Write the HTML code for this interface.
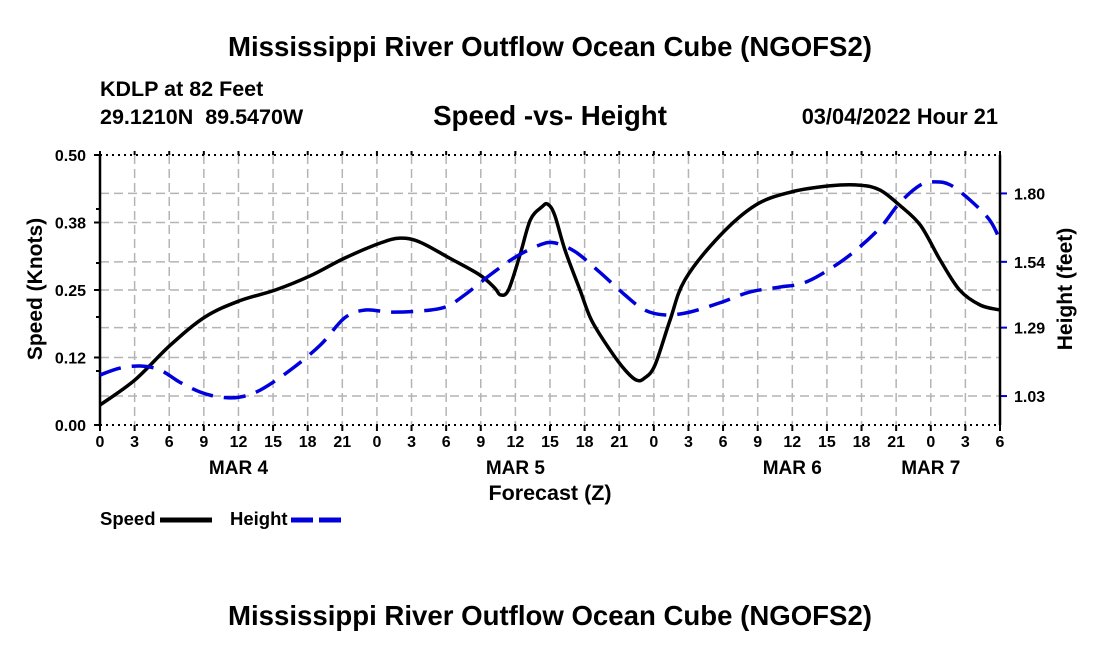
<!DOCTYPE html>
<html><head><meta charset="utf-8"><style>
body{margin:0;background:#fff;}
svg text{font-family:"Liberation Sans",Arial,sans-serif;font-weight:bold;fill:#000;}
</style></head><body>
<svg id="chart" width="1100" height="650" viewBox="0 0 1100 650">
<text x="550" y="56" font-size="27.6" text-anchor="middle">Mississippi River Outflow Ocean Cube (NGOFS2)</text>
<text x="100" y="96" font-size="21.5">KDLP at 82 Feet</text>
<text x="100" y="124" font-size="21.5">29.1210N&#160; 89.5470W</text>
<text x="550" y="125" font-size="27.7" text-anchor="middle">Speed -vs- Height</text>
<text x="998" y="124" font-size="21.8" text-anchor="end">03/04/2022 Hour 21</text>
<g id="grid"></g>
<g id="axes"></g>
<g id="series"></g>
<text transform="translate(42,289) rotate(-90)" font-size="21" text-anchor="middle">Speed (Knots)</text>
<text transform="translate(1072,289) rotate(-90)" font-size="21" text-anchor="middle">Height (feet)</text>
<text x="550" y="500" font-size="21.5" text-anchor="middle">Forecast (Z)</text>
<g>
<text x="100" y="525" font-size="18.5">Speed</text>
<line x1="160" y1="520" x2="212" y2="520" stroke="#000" stroke-width="5"/>
<text x="230" y="525" font-size="18.5">Height</text>
<line x1="291" y1="520" x2="343" y2="520" stroke="#0000dd" stroke-width="5" stroke-dasharray="22,6"/>
</g>
<text x="550" y="625" font-size="27.6" text-anchor="middle">Mississippi River Outflow Ocean Cube (NGOFS2)</text>
</svg>
<script>
const speedHours=[0,3,6.1,9.1,12.1,15.2,18.2,21.2,24.3,26,27.7,30.3,32.9,34.2,34.7,35.4,36.4,37.3,38.3,38.8,39.4,40.3,41.6,42.6,44.2,45.5,46.5,47.2,48.1,49.4,50.7,53.7,56.8,59.8,63.3,65.9,67.6,69.3,71.1,72.8,74.5,76.3,78];
const speedValues=[0.037,0.083,0.148,0.200,0.230,0.250,0.276,0.309,0.337,0.346,0.339,0.309,0.278,0.254,0.241,0.250,0.315,0.380,0.404,0.409,0.389,0.324,0.250,0.194,0.139,0.102,0.083,0.087,0.111,0.194,0.269,0.350,0.407,0.431,0.443,0.444,0.435,0.407,0.370,0.306,0.250,0.222,0.213];
const heightHours=[0,1.7,3.5,5.2,6.9,8.7,10.4,12.1,13.9,16.5,19.1,21.2,23,25.1,27.7,29.9,31.6,33.8,36,38.1,39.4,41.2,43.3,45.5,47.2,49,51.1,53.7,56.3,58.9,60.7,62.4,65,67.6,69.3,71.1,72.4,73.7,75.4,77.1,78];
const heightValues=[1.110,1.136,1.144,1.129,1.083,1.045,1.026,1.026,1.053,1.129,1.224,1.327,1.357,1.349,1.353,1.368,1.414,1.490,1.558,1.604,1.612,1.578,1.501,1.414,1.357,1.338,1.349,1.384,1.425,1.444,1.456,1.490,1.566,1.669,1.764,1.832,1.844,1.832,1.775,1.699,1.623];
const xTickLabels=["0","3","6","9","12","15","18","21","0","3","6","9","12","15","18","21","0","3","6","9","12","15","18","21","0","3","6"];
const dayLabels=["MAR 4","MAR 5","MAR 6","MAR 7"];
const dayHours=[12,36,60,72];
const leftTicks=[0,0.125,0.25,0.375,0.5];
const leftTickLabels=["0.00","0.12","0.25","0.38","0.50"];
const leftMinor=[0.1,0.2,0.3,0.4];
const rightTicks=[1.03,1.29,1.54,1.80];
const rightTickLabels=["1.03","1.29","1.54","1.80"];

const L=100,R=1000,T=155,B=425;
const xS=h=>L+h/78*(R-L);
const yL=v=>B-v/0.5*(B-T);
const yR=v=>B-(v-0.92)/(1.946-0.92)*(B-T);
const NS="http://www.w3.org/2000/svg";
function mk(tag,attrs,parent){const e=document.createElementNS(NS,tag);for(const k in attrs)e.setAttribute(k,attrs[k]);parent.appendChild(e);return e;}
const grid=document.getElementById('grid'),axes=document.getElementById('axes'),series=document.getElementById('series');
const gs={stroke:"#b4b4b4","stroke-width":1.5,"stroke-dasharray":"9,5"};
xTickLabels.forEach((t,i)=>{const x=xS(i*3);
 if(i>0&&i<26){const g=mk('line',Object.assign({x1:x,x2:x,y1:T,y2:B},gs),grid);
 
 }
 const tk=mk('line',{x1:x,x2:x,y1:B,y2:B+6,stroke:"#000","stroke-width":2},axes);
 
 
 const tt=mk('line',{x1:x,x2:x,y1:T-4,y2:T,stroke:"#000","stroke-width":2},axes);
 
 
 const tl=mk('text',{x:x,y:B+22,"font-size":16,"text-anchor":"middle"},axes);tl.textContent=t;
 
 
});
dayLabels.forEach((d,i)=>{const t=mk('text',{x:xS(dayHours[i]),y:474,"font-size":19,"text-anchor":"middle"},axes);t.textContent=d;
 
 });
leftTicks.forEach((v,i)=>{const y=yL(v);
 if(i>0&&i<4){const g=mk('line',Object.assign({x1:L,x2:R,y1:y,y2:y},gs),grid);
 
 }
 const tk=mk('line',{x1:L-6,x2:L,y1:y,y2:y,stroke:"#000","stroke-width":2},axes);
 
 
 const tl=mk('text',{x:L-14,y:y+6,"font-size":16,"text-anchor":"end"},axes);tl.textContent=leftTickLabels[i];
 
 });
leftMinor.forEach(v=>{const tk=mk('line',{x1:L-4,x2:L,y1:yL(v),y2:yL(v),stroke:"#000","stroke-width":2},axes);
 
 });
rightTicks.forEach((v,i)=>{const y=yR(v);
 const g=mk('line',Object.assign({x1:L,x2:R,y1:y,y2:y},gs),grid);
 
 
 const tk=mk('line',{x1:R,x2:R+7,y1:y,y2:y,stroke:"#0000dd","stroke-width":2},axes);
 
 
 const tl=mk('text',{x:R+14,y:y+6,"font-size":16},axes);tl.textContent=rightTickLabels[i];
 
 });
[[L,T,R,T,"2,4"],[L,B,R,B,"2,4"]].forEach(a=>{const l=mk('line',{x1:a[0],y1:a[1],x2:a[2],y2:a[3],stroke:"#000","stroke-width":2,"stroke-dasharray":a[4]},axes);
 
 });
[[L],[R]].forEach(a=>{const l=mk('line',{x1:a[0],y1:T,x2:a[0],y2:B,stroke:"#000","stroke-width":2.5},axes);
 
 });
function path(xs,ys){const p=xs.map((x,i)=>[x,ys[i]]);let d=`M${p[0][0]},${p[0][1]}`;
 for(let i=0;i<p.length-1;i++){const p0=p[i-1]||p[i],p1=p[i],p2=p[i+1],p3=p[i+2]||p2;
 d+=` C${p1[0]+(p2[0]-p0[0])/6},${p1[1]+(p2[1]-p0[1])/6} ${p2[0]-(p3[0]-p1[0])/6},${p2[1]-(p3[1]-p1[1])/6} ${p2[0]},${p2[1]}`;}return d;}
const sp=mk('path',{d:path(speedHours.map(xS),speedValues.map(yL)),fill:"none",stroke:"#000","stroke-width":3.5},series);


const hp=mk('path',{d:path(heightHours.map(xS),heightValues.map(yR)),fill:"none",stroke:"#0000dd","stroke-width":3.5,"stroke-dasharray":"22,11"},series);


</script>
</body></html>
